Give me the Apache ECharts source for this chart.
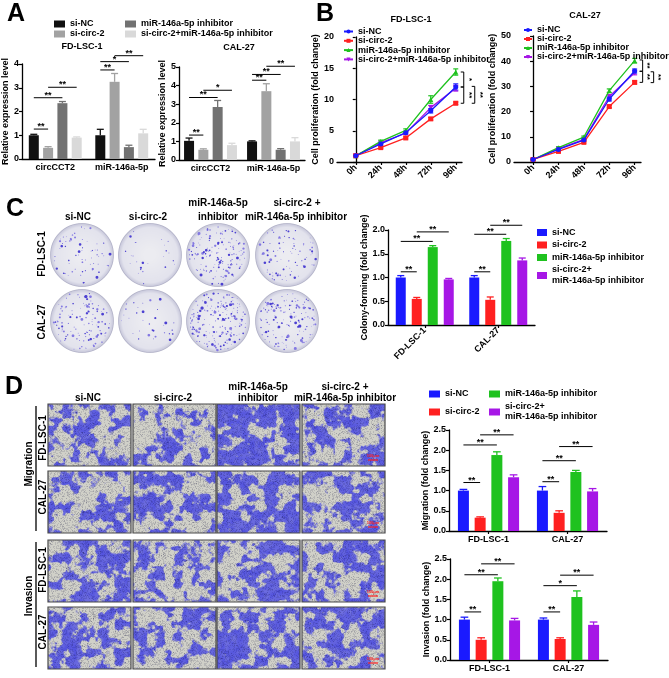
<!DOCTYPE html>
<html><head><meta charset="utf-8">
<script src="https://cdn.jsdelivr.net/npm/echarts@6/dist/echarts.min.js"></script>
<style>html,body{margin:0;padding:0;background:#fff}#c{width:669px;height:678px}</style>
</head><body><div id="c"></div>
<script>
// ================= DATA =================
const groupLabels = ['si-NC', 'si-circ-2', 'miR-146a-5p inhibitor', 'si-circ-2+miR-146a-5p inhibitor'];
const groupLabelsWrapped = ['si-NC', 'si-circ-2', 'miR-146a-5p inhibitor', 'si-circ-2+\nmiR-146a-5p inhibitor'];

// Panel A (relative expression level)
const aCategories = ['circCCT2', 'miR-146a-5p'];
const aFdMeans = [[1.0, 1.0], [0.47, 3.25], [2.35, 0.5], [0.9, 1.08]];
const aFdErrs  = [[0.04, 0.25], [0.05, 0.35], [0.07, 0.08], [0.03, 0.17]];
const aFdSig   = [[0,0,1,1.26,2],[0,0,2,2.58,2],[0,1,3,3.02,2],[1,0,1,3.75,2],[1,0,2,4.1,1],[1,1,3,4.35,2]];
const aCalMeans = [[1.03, 1.0], [0.55, 3.7], [2.85, 0.55], [0.8, 1.0]];
const aCalErrs  = [[0.15, 0.03], [0.05, 0.4], [0.35, 0.06], [0.1, 0.2]];
const aCalSig   = [[0,0,1,1.34,2],[0,0,2,3.36,2],[0,1,3,3.75,1],[1,0,1,4.29,2],[1,0,2,4.6,2],[1,1,3,5.04,2]];

// Panel B (cell proliferation, fold change)
const bTimes = ['0h', '24h', '48h', '72h', '96h'];
const bFdMeans = [[1, 2.9, 4.7, 8.2, 12.0], [1, 2.3, 3.85, 6.9, 9.4], [1, 3.3, 5.05, 10.0, 14.4], [1, 3.1, 4.6, 8.7, 11.8]];
const bFdErrs  = [[0.1, 0.2, 0.2, 0.35, 0.5], [0.1, 0.15, 0.15, 0.2, 0.2], [0.1, 0.2, 0.25, 0.6, 0.5], [0.1, 0.15, 0.2, 0.35, 0.45]];
const bFdBrackets = [[4, 14.4, 12.0, 0, 1], [4, 12.0, 9.4, 0, 2], [4, 12.1, 9.4, 1, 2]];
const bCalMeans = [[1, 5.0, 8.7, 25.0, 36.1], [1, 4.2, 7.8, 22.0, 31.6], [1, 5.7, 9.9, 28.3, 40.2], [1, 5.3, 9.0, 26.0, 35.4]];
const bCalErrs  = [[0.2, 0.3, 0.4, 0.8, 0.8], [0.2, 0.3, 0.3, 0.5, 0.6], [0.2, 0.3, 0.4, 0.7, 0.9], [0.2, 0.3, 0.4, 0.7, 0.8]];
const bCalBrackets = [[4, 40.5, 36.0, 0, 2], [4, 36.0, 31.6, 0, 2], [4, 35.8, 31.5, 1, 2]];

// Panel C (colony forming)
const cellLines = ['FD-LSC-1', 'CAL-27'];
const cMeans = [[1.0, 1.0], [0.55, 0.53], [1.64, 1.77], [0.96, 1.36]];
const cErrs  = [[0.04, 0.04], [0.03, 0.06], [0.03, 0.05], [0.02, 0.05]];
const cSig   = [[0,0,1,1.12,2],[0,0,2,1.76,2],[0,1,3,1.96,2],[1,0,1,1.12,2],[1,0,2,1.91,2],[1,1,3,2.1,2]];

// Panel D (migration / invasion)
const dMigMeans = [[1.0, 1.0], [0.33, 0.45], [1.88, 1.46], [1.33, 0.98]];
const dMigErrs  = [[0.03, 0.1], [0.02, 0.05], [0.08, 0.04], [0.06, 0.07]];
const dMigSig   = [[0,0,1,1.2,2],[0,0,2,2.13,2],[0,1,3,2.38,2],[1,0,1,1.22,2],[1,0,2,1.74,2],[1,1,3,2.09,2]];
const dInvMeans = [[1.0, 1.0], [0.5, 0.52], [1.95, 1.56], [0.98, 0.87]];
const dInvErrs  = [[0.06, 0.04], [0.05, 0.03], [0.08, 0.15], [0.05, 0.07]];
const dInvSig   = [[0,0,1,1.19,2],[0,0,2,2.11,2],[0,1,3,2.38,2],[1,0,1,1.19,2],[1,0,2,1.84,1],[1,1,3,2.1,2]];

// Photo panels (approximate amount of stain, used only for textures)
const colonyDensity = [[65, 25, 150, 85], [120, 32, 210, 150]];
const migrationCover = [[0.5, 0.28, 0.72, 0.5], [0.45, 0.5, 0.62, 0.5]];
const invasionCover = [[0.5, 0.3, 0.6, 0.45], [0.5, 0.45, 0.62, 0.5]];

// ================= STYLE =================
const FONT = '"Liberation Sans", Arial, sans-serif';
const grayColors = ['#111111', '#a2a2a2', '#727272', '#d9d9d9'];
const vivid = ['#1a1aff', '#ff2020', '#1fc21f', '#a617e6'];
const lineSymbols = ['circle', 'rect', 'triangle', 'triangle'];
const axLine = { show: true, lineStyle: { color: '#000', width: 1.3 } };
const axTick = { show: true, length: 3, lineStyle: { color: '#000', width: 1.2 } };
const lbl = { fontFamily: FONT, fontWeight: 'bold', fontSize: 9, color: '#000' };

const grids = [
  { left: 22, top: 64, width: 133, height: 95 },   // 0 A1
  { left: 179, top: 67, width: 126, height: 93 },  // 1 A2
  { left: 337, top: 37, width: 125, height: 125 }, // 2 B1
  { left: 514, top: 36, width: 127, height: 126 }, // 3 B2
  { left: 388, top: 230, width: 147, height: 95 }, // 4 C
  { left: 449, top: 430, width: 158, height: 101 },// 5 D mig
  { left: 450, top: 559, width: 158, height: 101 } // 6 D inv
];

function yAx(i, max, interval, dec, name, nameGap) {
  return {
    type: 'value', gridIndex: i, min: 0, max: max, interval: interval,
    name: name, nameLocation: 'middle', nameGap: nameGap,
    nameTextStyle: Object.assign({}, lbl, { fontSize: 9 }),
    axisLine: axLine, axisTick: axTick, splitLine: { show: false },
    axisLabel: Object.assign({}, lbl, { margin: 3, formatter: v => v.toFixed(dec) })
  };
}
function xCat(i, cats, rotate, showTick) {
  return {
    type: 'category', gridIndex: i, data: cats,
    axisLine: axLine,
    axisTick: Object.assign({}, axTick, { show: showTick, alignWithLabel: true }),
    axisLabel: Object.assign({}, lbl, { margin: 4, rotate: rotate, interval: 0 })
  };
}
function xTime(i) {
  return {
    type: 'value', gridIndex: i, min: -0.75, max: 4.25,
    axisLine: axLine, splitLine: { show: false },
    axisTick: Object.assign({}, axTick, { customValues: [0, 1, 2, 3, 4] }),
    axisLabel: Object.assign({}, lbl, { margin: 4, rotate: 45, customValues: [0, 1, 2, 3, 4], formatter: v => bTimes[Math.round(v)] })
  };
}

const xAxes = [
  xCat(0, aCategories, 0, false), xCat(1, aCategories, 0, false),
  xTime(2), xTime(3),
  xCat(4, cellLines, 45, true), xCat(5, cellLines, 0, true), xCat(6, cellLines, 0, true)
];
const yAxes = [
  yAx(0, 4, 1, 0, 'Relative expression level', 11),
  yAx(1, 5, 1, 0, 'Relative expression level', 11),
  yAx(2, 20, 5, 0, 'Cell proliferation (fold change)', 13),
  yAx(3, 50, 10, 0, 'Cell proliferation (fold change)', 14),
  yAx(4, 2, 0.5, 1, 'Colony-forming (fold change)', 17),
  yAx(5, 2.5, 0.5, 1, 'Migration (fold change)', 15),
  yAx(6, 2.5, 0.5, 1, 'Invasion (fold change)', 15)
];

// ================= SERIES BUILDERS =================
function errRender(pitch, capW, colors) {
  return function (params, api) {
    const cat = api.value(0), g = api.value(1), m = api.value(2), e = api.value(3);
    const base = api.coord([cat, m]);
    const x = base[0] + (g - 1.5) * pitch;
    const y1 = api.coord([cat, m + e])[1];
    const c = colors[g];
    return { type: 'group', children: [
      { type: 'line', shape: { x1: x, y1: base[1], x2: x, y2: y1 }, style: { stroke: c, lineWidth: 1.3 } },
      { type: 'line', shape: { x1: x - capW / 2, y1: y1, x2: x + capW / 2, y2: y1 }, style: { stroke: c, lineWidth: 1.3 } }
    ] };
  };
}
function sigRender(pitch) {
  return function (params, api) {
    const cat = api.value(0), g1 = api.value(1), g2 = api.value(2), yv = api.value(3), n = api.value(4);
    const p = api.coord([cat, yv]);
    const xa = p[0] + (g1 - 1.5) * pitch, xb = p[0] + (g2 - 1.5) * pitch;
    return { type: 'group', children: [
      { type: 'line', shape: { x1: xa, y1: p[1], x2: xb, y2: p[1] }, style: { stroke: '#000', lineWidth: 1 } },
      { type: 'text', x: (xa + xb) / 2, y: p[1] + 2, style: { text: '*'.repeat(n), fill: '#000', font: 'bold 9px ' + FONT, align: 'center', verticalAlign: 'bottom' } }
    ] };
  };
}
function barPanel(key, ai, means, errs, sigs, colors, barW, gapPct) {
  const pitch = barW * (1 + gapPct / 100);
  const out = [];
  means.forEach((vals, g) => {
    out.push({ type: 'bar', name: key + g, xAxisIndex: ai, yAxisIndex: ai, data: vals,
      barWidth: barW, barGap: gapPct + '%', itemStyle: { color: colors[g] }, z: 2 });
  });
  const errData = [];
  means.forEach((vals, g) => vals.forEach((v, i) => errData.push([i, g, v, errs[g][i]])));
  out.push({ type: 'custom', xAxisIndex: ai, yAxisIndex: ai, data: errData, encode: { x: 0, y: 2 },
    renderItem: errRender(pitch, barW * 0.7, colors), z: 3, silent: true, clip: false });
  out.push({ type: 'custom', xAxisIndex: ai, yAxisIndex: ai, data: sigs, encode: { x: 0, y: 3 },
    renderItem: sigRender(pitch), z: 4, silent: true, clip: false });
  return out;
}
function bracketRender(params, api) {
  const xi = api.value(0), y1 = api.value(1), y2 = api.value(2), lvl = api.value(3), n = api.value(4);
  const p1 = api.coord([xi, y1]), p2 = api.coord([xi, y2]);
  const x = p1[0] + 8 + lvl * 11;
  return { type: 'group', children: [
    { type: 'polyline', shape: { points: [[x - 3, p1[1]], [x, p1[1]], [x, p2[1]], [x - 3, p2[1]]] }, style: { stroke: '#000', fill: null, lineWidth: 1 } },
    { type: 'text', x: x + 5, y: (p1[1] + p2[1]) / 2, rotation: -Math.PI / 2, style: { text: '*'.repeat(n), fill: '#000', font: 'bold 8px ' + FONT, align: 'center', verticalAlign: 'middle' } }
  ] };
}
function lineErrRender(params, api) {
  const xi = api.value(0), m = api.value(1), e = api.value(2), g = api.value(3);
  const pt = api.coord([xi, m + e]), pb = api.coord([xi, m - e]);
  const c = vivid[g];
  return { type: 'group', children: [
    { type: 'line', shape: { x1: pt[0], y1: pt[1], x2: pb[0], y2: pb[1] }, style: { stroke: c, lineWidth: 1.2 } },
    { type: 'line', shape: { x1: pt[0] - 2.5, y1: pt[1], x2: pt[0] + 2.5, y2: pt[1] }, style: { stroke: c, lineWidth: 1.2 } },
    { type: 'line', shape: { x1: pb[0] - 2.5, y1: pb[1], x2: pb[0] + 2.5, y2: pb[1] }, style: { stroke: c, lineWidth: 1.2 } }
  ] };
}
function linePanel(key, ai, means, errs, brackets) {
  const out = [];
  const errData = [];
  means.forEach((vals, g) => {
    out.push({ type: 'line', name: key + g, xAxisIndex: ai, yAxisIndex: ai,
      data: vals.map((v, i) => [i, v]), symbol: lineSymbols[g], symbolRotate: g === 3 ? 180 : 0,
      symbolSize: 5, lineStyle: { width: 1.3, color: vivid[g] }, itemStyle: { color: vivid[g] },
      z: g === 0 ? 6 : 5 - g });
    vals.forEach((v, i) => errData.push([i, v, errs[g][i], g]));
  });
  out.push({ type: 'custom', xAxisIndex: ai, yAxisIndex: ai, data: errData, encode: { x: 0, y: 1 },
    renderItem: lineErrRender, z: 3, silent: true, clip: false });
  out.push({ type: 'custom', xAxisIndex: ai, yAxisIndex: ai, data: brackets, encode: { x: 0, y: 1 },
    renderItem: bracketRender, z: 4, silent: true, clip: false });
  return out;
}

const series = [].concat(
  barPanel('a1_', 0, aFdMeans, aFdErrs, aFdSig, grayColors, 10, 43),
  barPanel('a2_', 1, aCalMeans, aCalErrs, aCalSig, grayColors, 10, 43),
  linePanel('b1_', 2, bFdMeans, bFdErrs, bFdBrackets),
  linePanel('b2_', 3, bCalMeans, bCalErrs, bCalBrackets),
  barPanel('c_', 4, cMeans, cErrs, cSig, vivid, 10, 60),
  barPanel('dm_', 5, dMigMeans, dMigErrs, dMigSig, vivid, 11, 52),
  barPanel('di_', 6, dInvMeans, dInvErrs, dInvSig, vivid, 11, 52)
);

// ================= LEGENDS =================
function legendNameText(name) {
  const g = +name.split('_')[1];
  return name.startsWith('a') || name.startsWith('b') ? groupLabels[g] : groupLabelsWrapped[g];
}
function mkLegend(names, left, top, iw, ih, lh, gap, icon) {
  const l = { data: names, left: left, top: top, orient: 'vertical', itemWidth: iw, itemHeight: ih,
    itemGap: gap, padding: 0, selectedMode: false, formatter: legendNameText,
    textStyle: Object.assign({}, lbl, { lineHeight: lh }) };
  if (icon) l.icon = icon;
  return l;
}
const legends = [
  mkLegend(['a1_0', 'a1_1'], 54, 19, 11, 7, 10, 0, 'rect'),
  mkLegend(['a1_2', 'a1_3'], 125, 19, 11, 7, 10, 0, 'rect'),
  mkLegend(['b1_0', 'b1_1', 'b1_2', 'b1_3'], 343, 27, 9, 5, 9, 0.3),
  mkLegend(['b2_0', 'b2_1', 'b2_2', 'b2_3'], 523, 25.5, 8, 5, 7.2, 0),
  mkLegend(['c_0', 'c_1', 'c_2', 'c_3'], 537, 227, 10, 7, 11, 1.5, 'rect'),
  mkLegend(['dm_0', 'dm_1'], 429, 389, 11, 7, 10, 8, 'rect'),
  mkLegend(['dm_2', 'dm_3'], 489, 389, 11, 7, 10, 3, 'rect')
];

// ================= PHOTO TEXTURES (decoration only) =================
function frac(v) { return v - Math.floor(v); }
function hash(x, y, s) { return frac(Math.sin(x * 12.9898 + y * 78.233 + s * 37.719) * 43758.5453); }
function vnoise(x, y, s) {
  const xi = Math.floor(x), yi = Math.floor(y);
  let xf = x - xi, yf = y - yi;
  xf = xf * xf * (3 - 2 * xf); yf = yf * yf * (3 - 2 * yf);
  const a = hash(xi, yi, s), b = hash(xi + 1, yi, s), c = hash(xi, yi + 1, s), d = hash(xi + 1, yi + 1, s);
  return a + (b - a) * xf + (c - a) * yf + (a - b - c + d) * xf * yf;
}
function photoCanvas(w, h, cover, seed) {
  const S = 2, c = document.createElement('canvas');
  c.width = w * S; c.height = h * S;
  const ctx = c.getContext('2d');
  const img = ctx.createImageData(c.width, c.height);
  const t = 0.5 + (0.5 - cover) * 0.32;
  for (let y = 0; y < c.height; y++) {
    for (let x = 0; x < c.width; x++) {
      const u = x / S, v = y / S;
      const f = 0.55 * vnoise(u / 9, v / 9, seed) + 0.3 * vnoise(u / 4, v / 4, seed + 3) + 0.15 * vnoise(u / 1.8, v / 1.8, seed + 7);
      const m = Math.max(0, Math.min(1, (f - t) * 10 + 0.5));
      const shade = 0.85 + 0.3 * vnoise(u / 3, v / 3, seed + 11);
      let r = 208 + (96 * shade - 208) * m, gg = 208 + (96 * shade - 208) * m, b = 200 + (222 - 200) * m;
      const hv = hash(x, y, seed);
      if (hv > 0.88) { r *= 0.55; gg *= 0.55; b *= 0.65; }
      const k = (y * c.width + x) * 4;
      img.data[k] = r; img.data[k + 1] = gg; img.data[k + 2] = b; img.data[k + 3] = 255;
    }
  }
  ctx.putImageData(img, 0, 0);
  return c;
}
function plateCanvas(r, dots, seed) {
  const S = 2, d = r * 2 * S, c = document.createElement('canvas');
  c.width = d + 4; c.height = d + 4;
  const ctx = c.getContext('2d');
  const cx = c.width / 2, cy = c.height / 2, R = r * S;
  const grad = ctx.createRadialGradient(cx, cy, R * 0.2, cx, cy, R);
  grad.addColorStop(0, '#ececf1'); grad.addColorStop(0.85, '#e3e3ed'); grad.addColorStop(1, '#c6c6da');
  ctx.beginPath(); ctx.arc(cx, cy, R, 0, Math.PI * 2); ctx.fillStyle = grad; ctx.fill();
  ctx.lineWidth = 1.5; ctx.strokeStyle = '#b0b0c6'; ctx.stroke();
  for (let i = 0; i < dots; i++) {
    const a = hash(i, 1, seed) * Math.PI * 2;
    const rr = Math.sqrt(hash(i, 2, seed)) * (R - 4);
    const s = 0.7 + hash(i, 3, seed) * hash(i, 5, seed) * 2.6;
    ctx.beginPath(); ctx.arc(cx + Math.cos(a) * rr, cy + Math.sin(a) * rr, s, 0, Math.PI * 2);
    ctx.fillStyle = hash(i, 4, seed) > 0.5 ? '#4c40d2' : '#8378e2'; ctx.fill();
  }
  return c;
}

// ================= GRAPHIC ELEMENTS =================
const G = [];
function txt(text, x, y, size, opts) {
  const o = Object.assign({ align: 'center', vAlign: 'middle', rot: 0, color: '#000', weight: 'bold' }, opts || {});
  G.push({ type: 'text', x: x, y: y, rotation: o.rot, z: 10,
    style: { text: text, font: o.weight + ' ' + size + 'px ' + FONT, fill: o.color, align: o.align, verticalAlign: o.vAlign } });
}
// panel letters
txt('A', 7, 2, 25, { align: 'left', vAlign: 'top' });
txt('B', 316, 2, 25, { align: 'left', vAlign: 'top' });
txt('C', 6, 197, 25, { align: 'left', vAlign: 'top' });
txt('D', 5, 375, 25, { align: 'left', vAlign: 'top' });
// chart titles
txt('FD-LSC-1', 82, 47, 9);
txt('CAL-27', 239, 48, 9);
txt('FD-LSC-1', 411, 20, 9);
txt('CAL-27', 585, 16, 9);

// Panel C headers & plates
const cColX = [82, 150, 218, 287];
const cRowY = [255, 321];
txt('si-NC', 78, 217, 10);
txt('si-circ-2', 148, 217, 10);
txt('miR-146a-5p', 218, 203, 10); txt('inhibitor', 218, 217, 10);
txt('si-circ-2 +', 297, 203, 10); txt('miR-146a-5p inhibitor', 296, 217, 10);
txt('FD-LSC-1', 42, 254, 10, { rot: Math.PI / 2 });
txt('CAL-27', 42, 322, 10, { rot: Math.PI / 2 });
cRowY.forEach((yy, r) => cColX.forEach((xx, k) => {
  G.push({ type: 'image', z: 1, style: { image: plateCanvas(31.5, colonyDensity[r][k], r * 4 + k + 1), x: xx - 32.5, y: yy - 32.5, width: 65, height: 65 } });
}));

// Panel D headers & photos
const dColX = [48, 133, 217, 302];
const dRowY = [404, 471, 540, 607];
txt('si-NC', 88, 398, 10);
txt('si-circ-2', 173, 398, 10);
txt('miR-146a-5p', 258, 387, 10); txt('inhibitor', 258, 398, 10);
txt('si-circ-2 +', 345, 387, 10); txt('miR-146a-5p inhibitor', 345, 398, 10);
txt('Migration', 29, 464, 10, { rot: Math.PI / 2 });
txt('Invasion', 29, 596, 10, { rot: Math.PI / 2 });
txt('FD-LSC-1', 43, 438, 10, { rot: Math.PI / 2 });
txt('CAL-27', 43, 497, 10, { rot: Math.PI / 2 });
txt('FD-LSC-1', 43, 570, 10, { rot: Math.PI / 2 });
txt('CAL-27', 43, 632, 10, { rot: Math.PI / 2 });
G.push({ type: 'line', shape: { x1: 36, y1: 406, x2: 36, y2: 531 }, style: { stroke: '#000', lineWidth: 1.3 } });
G.push({ type: 'line', shape: { x1: 36, y1: 542, x2: 36, y2: 667 }, style: { stroke: '#000', lineWidth: 1.3 } });
const dCovers = [migrationCover[0], migrationCover[1], invasionCover[0], invasionCover[1]];
dRowY.forEach((yy, r) => dColX.forEach((xx, k) => {
  G.push({ type: 'image', z: 1, style: { image: photoCanvas(83, 62, dCovers[r][k], r * 5 + k * 2 + 1.3), x: xx, y: yy, width: 83, height: 62 } });
  G.push({ type: 'rect', z: 2, shape: { x: xx, y: yy, width: 83, height: 62 }, style: { fill: null, stroke: '#4a4a4a', lineWidth: 1.2 } });
  if (k === 3) {
    G.push({ type: 'line', z: 3, shape: { x1: xx + 66, y1: yy + 56, x2: xx + 76, y2: yy + 56 }, style: { stroke: '#ff2020', lineWidth: 1.2 } });
    txt('100μm', xx + 71, yy + 52, 4, { color: '#ff2020' });
  }
}));

// ================= CHART =================
const chart = echarts.init(document.getElementById('c'), null, { renderer: 'canvas' });
chart.setOption({
  animation: false,
  backgroundColor: '#ffffff',
  textStyle: { fontFamily: FONT },
  grid: grids,
  xAxis: xAxes,
  yAxis: yAxes,
  legend: legends,
  series: series,
  graphic: { elements: G }
});
</script></body></html>
